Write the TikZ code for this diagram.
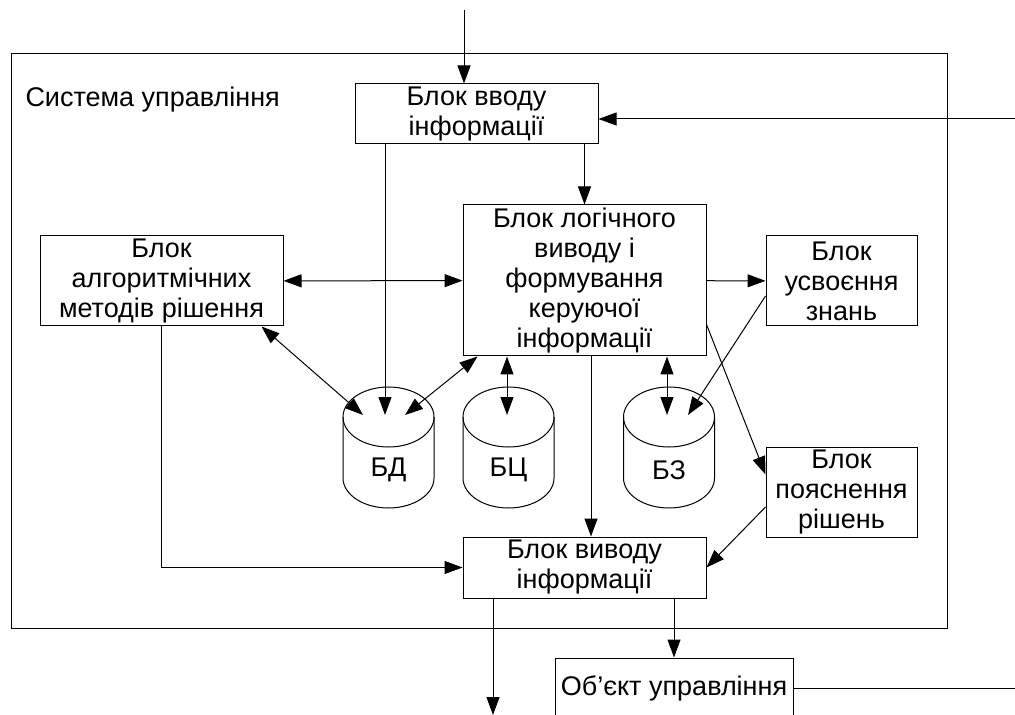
\documentclass[tikz,border=0pt]{standalone}
\usepackage{fontspec}
\setmainfont{Liberation Sans}
\usetikzlibrary{arrows.meta}

\begin{document}
\begin{tikzpicture}[x=0.5pt,y=-0.5pt,line width=0.5pt,
  font=\fontsize{13.5}{15}\selectfont,
  blk/.style={draw,rectangle,inner sep=0pt,align=center,minimum width=121.5pt},
  arr/.style={-{Triangle[length=9pt,width=6.5pt]}},
  arr2/.style={{Triangle[length=9pt,width=6.5pt]}-{Triangle[length=9pt,width=6.5pt]}}]
\useasboundingbox (0,0) rectangle (1015,715);
\draw (11,54) rectangle (947,628);
\node (systitle) at (25,100) [anchor=west,inner sep=0pt] {Система управління};
\node (inp) at (476.5,114) [blk,minimum height=30pt] {Блок вводу\\інформації};
\node (logic) at (584.5,280.5) [blk,minimum height=75.5pt] {Блок логічного\\виводу і\\формування\\керуючої\\інформації};
\node (algo) at (161.5,281) [blk,minimum height=45pt] {Блок\\алгоритмічних\\методів рішення};
\node (usv) at (841.5,281) [blk,minimum width=75.5pt,minimum height=45pt] {Блок\\усвоєння\\знань};
\node (poyasn) at (841.5,492) [blk,minimum width=75.5pt,minimum height=45pt] {Блок\\пояснення\\рішень};
\node (out) at (584.5,567.5) [blk,minimum height=30.5pt] {Блок виводу\\інформації};
\node (obj) at (674,688) [blk,minimum width=119pt,minimum height=30pt] {Об’єкт управління};
% бази
\foreach \nm/\cx/\txt in {bd/388.5/БД, bc/508.5/БЦ, bz/669/БЗ} {
  \draw (\cx-45.5,417) -- (\cx-45.5,478) arc [start angle=180,end angle=360,x radius=22.75pt,y radius=15pt] -- (\cx+45.5,417);
  \draw (\cx,417) ellipse [x radius=22.75pt,y radius=15pt];
  \node (\nm) at (\cx,470) {\txt};
  \coordinate (\nm-top) at (\cx,415);
}
\coordinate (in0) at (464,10);
\coordinate (fb1) at (1015,119);
\coordinate (fb2) at (1015,688);
\coordinate (ex) at (493,715);
% зв'язки
\draw [arr] (in0) -- (in0 |- inp.north);
\draw [arr] (fb1) -- (fb1 -| inp.east);
\draw (obj.east) -- (fb2);
\draw [arr] ([xshift=-1.75pt]inp.south -| bd-top) -- ([xshift=-1.75pt]bd-top);
\draw [arr] (inp.south -| logic.north) -- (logic.north);
\draw [arr2] (algo) -- (logic);
\draw [arr2] ([xshift=-11pt]algo.south east) -- ([xshift=-12.75pt]bd-top);
\draw [arr2] ([xshift=8.25pt]bd-top) -- ([xshift=7.5pt]logic.south west);
\draw [arr2] ([xshift=-0.75pt]bc-top) -- ([xshift=-0.75pt]bc-top |- logic.south);
\draw [arr2] ([xshift=-1pt]bz-top) -- ([xshift=-1pt]bz-top |- logic.south);
\draw [arr] (logic) -- (usv);
\draw [arr] ([yshift=-7.5pt]usv.west) -- ([xshift=9.5pt]bz-top);
\draw [arr] ([yshift=-22pt]logic.east) -- ([yshift=-14pt]poyasn.north west);
\draw [arr] ([yshift=-7.5pt]poyasn.west) -- (out.east);
\draw [arr] ([xshift=3.25pt]logic.south) -- ([xshift=3.25pt]out.north);
\draw [arr] (algo.south) |- (out.west);
\draw [arr] (out.south -| ex) -- (ex);
\draw [arr] (out.south -| obj.north) -- (obj.north);
\end{tikzpicture}
\end{document}
